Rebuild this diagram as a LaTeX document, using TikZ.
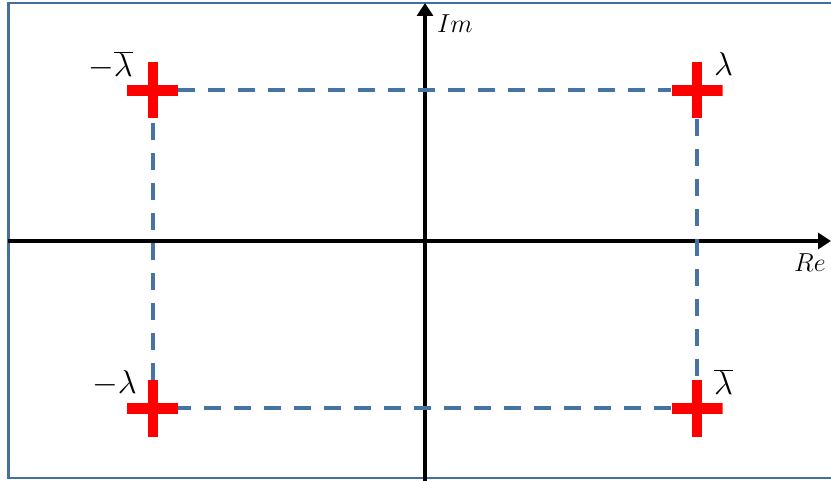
\RequirePackage{fix-cm}
\documentclass[tikz,border=0pt]{standalone}
\usetikzlibrary{arrows.meta}
\definecolor{frameblue}{RGB}{65,113,156}
\definecolor{dashblue}{RGB}{70,116,162}
\tikzset{
  eig/.style={minimum width=51pt, minimum height=56pt, inner sep=0pt,
    path picture={
      \fill[red] ([xshift=-5pt]path picture bounding box.north) rectangle ([xshift=5pt]path picture bounding box.south);
      \fill[red] ([yshift=-5.5pt]path picture bounding box.west) rectangle ([yshift=5.5pt]path picture bounding box.east);
    }},
  link/.style={dashblue, line width=4pt, dash pattern=on 17pt off 13pt},
  axis/.style={line width=4pt, -{Triangle[length=13pt,width=16pt]}},
  lam/.style={font=\fontsize{33}{38}\selectfont, inner sep=0pt},
  axlbl/.style={font=\fontsize{26}{30}\selectfont, inner sep=0pt}
}
\begin{document}
\begin{tikzpicture}[x=1pt,y=-1pt]
\useasboundingbox (0,0) rectangle (831,481);
\draw[frameblue, line width=2.5pt] (8.5,3) rectangle (834,478);
% axes
\coordinate (reL) at (8,241);
\coordinate (reR) at (831,241);
\coordinate (imB) at (425,481);
\coordinate (imT) at (425,3);
\draw[axis] (reL) -- (reR);
\draw[axis] (imB) -- (imT);
\node[axlbl, anchor=base west] (re) at (794,272) {$Re$};
\node[axlbl, anchor=base west] (im) at (437,33) {$Im$};
% eigenvalues
\node[eig] (nlb) at (152.5,90.5) {};
\node[eig] (lam) at (697,90.5) {};
\node[eig] (nlam) at (152.5,408.5) {};
\node[eig] (lb) at (697,408.5) {};
\draw[link] (nlb) -- (lam);
\draw[link] (lam) -- (lb);
\draw[link] (lb) -- (nlam);
\draw[link] (nlam) -- (nlb);
\node[lam, anchor=base east] at (133,77) {$-\overline{\lambda}$};
\node[lam, anchor=base west] at (714,76) {$\lambda$};
\node[lam, anchor=base east] at (137,393) {$-\lambda$};
\node[lam, anchor=base west] at (714,395) {$\overline{\lambda}$};
\end{tikzpicture}
\end{document}
